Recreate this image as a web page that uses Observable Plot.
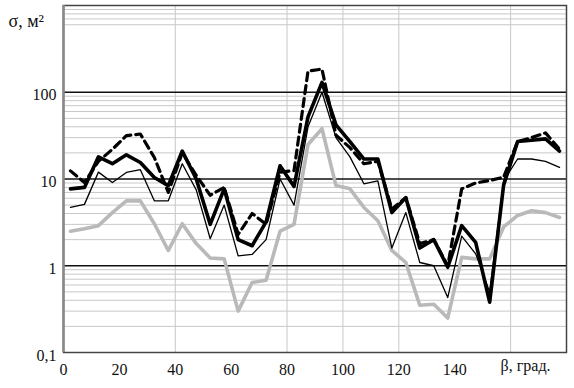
<!DOCTYPE html>
<html>
<head>
<meta charset="utf-8">
<script src="https://cdn.jsdelivr.net/npm/d3@7"></script>
<script src="https://cdn.jsdelivr.net/npm/@observablehq/plot@0.6"></script>
<style>
  html, body { margin: 0; padding: 0; background: #fff; }
  #chart svg { display: block; }
  #chart svg, #chart svg text { font-family: "Liberation Serif", "Times New Roman", "DejaVu Serif", serif !important; }
</style>
</head>
<body>
<div id="chart"></div>
<script>
// Angle β, degrees (sample points)
const beta = [2.5, 7.5, 12.5, 17.5, 22.5, 27.5, 32.5, 37.5, 42.5, 47.5, 52.5, 57.5,
  62.5, 67.5, 72.5, 77.5, 82.5, 87.5, 92.5, 97.5, 102.5, 107.5, 112.5, 117.5,
  122.5, 127.5, 132.5, 137.5, 142.5, 147.5, 152.5, 157.5, 162.5, 167.5, 172.5, 177.5];

// σ, m² — thick solid black
const sThick = [7.7, 8.0, 18, 15, 19, 15.5, 10.4, 8.4, 21, 10, 3.0, 7.7,
  2.0, 1.7, 3.2, 14.2, 8.2, 52, 130, 42, 27, 17, 17, 4.1,
  6.1, 1.6, 2.0, 0.96, 2.9, 1.86, 0.38, 8.5, 27, 28, 29, 21];
// dashed black
const sDashed = [12.4, 9.1, 16, 22, 31.6, 33, 17.7, 7, 20, 11, 6.5, 8,
  2.3, 4.0, 3.0, 12, 12.5, 175, 185, 32, 23, 15, 16, 4.5,
  6.1, 1.8, 2.0, 1.0, 7.7, 9, 9.6, 10.5, 27, 30, 34, 22];
// thin solid black
const sThin = [4.7, 5.1, 12, 9.1, 11.9, 12.8, 5.6, 5.6, 15, 7.5, 2.05, 5.0,
  1.3, 1.35, 2.0, 10, 5.0, 40, 100, 30, 18, 8.8, 9.5, 1.6,
  4.1, 1.09, 1.0, 0.43, 2.2, 1.37, 0.5, 9.5, 17, 17, 16, 13.6];
// thick grey
const sGrey = [2.5, 2.67, 2.9, 4.1, 5.6, 5.6, 3.05, 1.5, 3.05, 1.8, 1.23, 1.2,
  0.30, 0.64, 0.68, 2.5, 3.0, 25, 38, 8.4, 7.7, 4.7, 3.3, 1.5,
  1.09, 0.35, 0.36, 0.25, 1.25, 1.2, 1.2, 2.8, 3.8, 4.3, 4.1, 3.6];

// Axis ticks
const yTicks = [0.1, 1, 10, 100];
const yTickLabels = ["0,1", "1", "10", "100"];
const xTicks = [0, 20, 40, 60, 80, 100, 120, 140];
const xGrid = [40, 80, 100, 120, 160];
const xUnitLabel = "β, град.";
const xUnitAt = 160;
const yUnitLabel = "σ, м²";
const minorMultipliers = [2, 3, 4, 5, 6, 7, 8, 9];
const minorDecades = [0.1, 1, 10];
const topMinor = [600, 700, 800, 900];

const minorY = minorDecades.flatMap(d => minorMultipliers.map(m => +(d * m).toPrecision(3))).concat(topMinor);

const toRows = arr => beta.map((b, i) => ({beta: b, sigma: arr[i]}));

const font = "Liberation Serif, Times New Roman, serif";

const chart = Plot.plot({
  width: 574,
  height: 388,
  marginLeft: 63,
  marginRight: 8,
  marginTop: 5,
  marginBottom: 36,
  style: {fontFamily: font, fontSize: "15px", background: "#fff", color: "#111"},
  x: {domain: [0, 180], grid: false},
  y: {type: "log", domain: [0.1, 1000], grid: false},
  marks: [
    Plot.ruleY(minorY, {stroke: "#c8c8c8", strokeWidth: 1}),
    Plot.ruleX(xGrid, {stroke: "#c8c8c8", strokeWidth: 1}),
    Plot.ruleY([1, 10, 100], {stroke: "#111", strokeWidth: 1.6}),
    Plot.line(toRows(sGrey), {x: "beta", y: "sigma", stroke: "#b9b9b9", strokeWidth: 3.6, strokeLinejoin: "round"}),
    Plot.line(toRows(sThin), {x: "beta", y: "sigma", stroke: "#000", strokeWidth: 1.3, strokeLinejoin: "round"}),
    Plot.line(toRows(sDashed), {x: "beta", y: "sigma", stroke: "#000", strokeWidth: 3.2, strokeDasharray: "8,5"}),
    Plot.line(toRows(sThick), {x: "beta", y: "sigma", stroke: "#000", strokeWidth: 3.6, strokeLinejoin: "round"}),
    Plot.frame({stroke: "#444", strokeWidth: 1.5}),
    Plot.ruleX([0], {stroke: "#888", strokeWidth: 2.5}),
    Plot.axisY(yTicks, {
      tickSize: 0, tickPadding: 7, dy: 3,
      tickFormat: d => yTickLabels[yTicks.indexOf(d)], label: null,
      fontSize: 16, fontFamily: font
    }),
    Plot.axisX(xTicks, {
      tickSize: 0, tickPadding: 11, tickFormat: d => String(d), label: null,
      fontSize: 16, fontFamily: font
    }),
    Plot.text([xUnitLabel], {
      x: () => xUnitAt, frameAnchor: "bottom", textAnchor: "start",
      dx: -10, dy: 18, text: d => d, fontSize: 16, fill: "#111", fontFamily: font
    }),
    Plot.text([yUnitLabel], {
      frameAnchor: "top-left", textAnchor: "start", dx: -55, dy: 9,
      text: d => d, fontSize: 18, fill: "#111", fontFamily: font
    })
  ]
});

document.getElementById("chart").appendChild(chart);
</script>
</body>
</html>
